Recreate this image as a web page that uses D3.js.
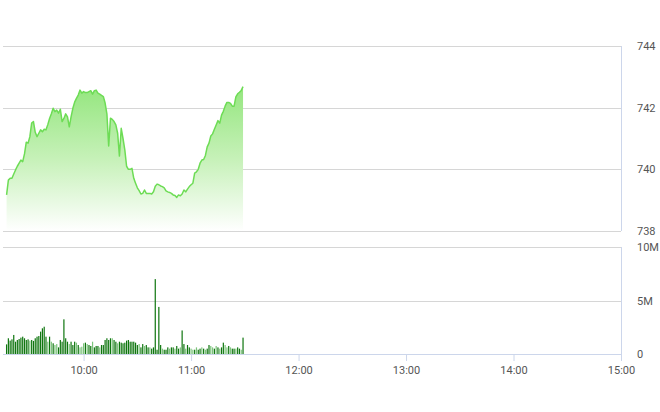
<!DOCTYPE html>
<html>
<head>
<meta charset="utf-8">
<script src="https://cdn.jsdelivr.net/npm/d3@7"></script>
<style>
  html, body { margin: 0; padding: 0; background: #fff; }
  svg { display: block; font-family: Roboto, "Noto Sans", sans-serif; }
</style>
</head>
<body>
<svg id="chart" width="660" height="412"></svg>
<script>
// ---- data (one sample per minute, first sample at 09:17) ----
const firstTime = "09:17";
const prices = [
  739.17, 739.65, 739.71, 739.71, 739.85, 739.98, 740.10, 740.20, 740.30, 740.25,
  740.50, 740.88, 740.85, 741.06, 741.50, 741.55, 741.20, 741.06, 741.17, 741.28,
  741.22, 741.30, 741.28, 741.45, 741.65, 741.80, 741.98, 741.87, 741.92, 741.82,
  741.95, 741.55, 741.65, 741.80, 741.70, 741.38, 741.70, 741.98, 742.18, 742.30,
  742.41, 742.57, 742.47, 742.52, 742.49, 742.49, 742.52, 742.55, 742.44, 742.55,
  742.57, 742.47, 742.44, 742.40, 742.36, 742.15, 741.80, 740.76, 741.66, 741.62,
  741.55, 741.44, 741.17, 740.43, 741.33, 741.00, 740.63, 740.10, 740.00, 740.00,
  740.03, 739.71, 739.55, 739.40, 739.31, 739.20, 739.22, 739.33, 739.22, 739.22,
  739.22, 739.20, 739.27, 739.45, 739.52, 739.50, 739.46, 739.44, 739.40, 739.30,
  739.27, 739.25, 739.22, 739.17, 739.15, 739.09, 739.17, 739.14, 739.20, 739.33,
  739.27, 739.36, 739.44, 739.50, 739.55, 739.88, 739.92, 740.00, 740.20, 740.30,
  740.32, 740.45, 740.73, 740.85, 741.08, 741.15, 741.30, 741.44, 741.58, 741.50,
  741.76, 741.88, 742.05, 742.17, 742.17, 742.14, 742.05, 742.05, 742.35, 742.45,
  742.50, 742.56, 742.68
];
// volume in millions
const volumes = [
  0.90, 1.47, 1.25, 1.37, 1.78, 1.15, 1.31, 1.40, 1.53, 1.62,
  1.47, 1.31, 1.37, 1.25, 1.31, 1.22, 1.47, 1.62, 1.68, 2.09,
  2.40, 2.55, 1.62, 1.15, 1.62, 1.15, 1.00, 0.84, 0.93, 0.62,
  1.31, 1.15, 3.24, 1.47, 1.15, 0.93, 1.15, 0.84, 1.15, 1.06,
  0.84, 0.62, 0.68, 1.00, 1.06, 0.93, 0.84, 0.75, 1.15, 0.62,
  0.75, 0.75, 0.62, 0.84, 0.84, 1.31, 1.47, 1.31, 1.47, 1.47,
  1.31, 1.15, 1.00, 1.15, 1.06, 1.00, 1.06, 1.25, 1.31, 1.15,
  1.15, 1.15, 1.06, 0.84, 0.93, 0.62, 0.93, 0.75, 0.84, 0.62,
  0.62, 0.50, 0.62, 7.00, 0.40, 4.40, 0.84, 0.50, 0.40, 0.40,
  0.62, 0.50, 0.62, 0.62, 0.50, 0.75, 0.50, 0.62, 2.20, 0.93,
  0.50, 0.84, 0.62, 0.50, 0.40, 0.40, 0.62, 0.40, 0.50, 0.62,
  0.50, 0.40, 0.50, 0.84, 0.75, 0.62, 0.50, 0.75, 0.62, 0.50,
  0.62, 1.06, 0.84, 0.62, 0.75, 0.62, 0.50, 0.50, 0.50, 0.62,
  0.50, 0.40, 1.53
];
// 0 = dark bar, 1 = light bar
const volumeShade = [
  0,0,0,0,0,0,0,0,0,0,
  0,0,0,1,0,0,0,0,0,0,
  0,0,0,1,0,1,0,1,1,0,
  0,0,0,0,0,1,0,0,0,1,
  0,1,1,1,0,1,0,0,1,0,
  0,0,1,0,0,0,0,0,0,1,
  0,0,1,0,0,0,0,0,0,0,
  0,0,0,0,1,0,0,1,0,0,
  1,0,0,0,0,0,0,1,0,0,
  0,1,0,0,1,0,0,1,0,0,
  1,0,0,1,1,0,1,0,0,1,
  0,1,0,0,1,1,0,1,0,1,
  0,0,1,1,0,1,0,0,1,0,
  0,1,0
];
const timeTicks = ["10:00", "11:00", "12:00", "13:00", "14:00", "15:00"];
const priceTicks = [738, 740, 742, 744];
const volumeTicks = [0, 5, 10];
const volumeTickLabels = ["0", "5M", "10M"];
const sessionStart = "09:15", sessionEnd = "15:00";

// ---- helpers ----
const parse = d3.timeParse("%H:%M");
const t0 = parse(firstTime);
const rows = prices.map((p, i) => ({
  t: d3.timeMinute.offset(t0, i), p, v: volumes[i], s: volumeShade[i]
}));

const svg = d3.select("#chart");
const left = 3, right = 621;
const x = d3.scaleTime().domain([parse(sessionStart), parse(sessionEnd)]).range([left, right]);
const yP = d3.scaleLinear().domain([738, 744]).range([231, 46]);
const yV = d3.scaleLinear().domain([0, 10]).range([354, 247]);

// gradient
const defs = svg.append("defs");
const grad = defs.append("linearGradient").attr("id", "areaGrad")
  .attr("gradientUnits", "userSpaceOnUse")
  .attr("x1", 0).attr("x2", 0)
  .attr("y1", yP(742.7)).attr("y2", yP(738));
grad.append("stop").attr("offset", "0%").attr("stop-color", "#94e67e").attr("stop-opacity", 1);
grad.append("stop").attr("offset", "50%").attr("stop-color", "#c6f1b8").attr("stop-opacity", 1);
grad.append("stop").attr("offset", "100%").attr("stop-color", "#ffffff").attr("stop-opacity", 1);

// price gridlines
svg.append("g").selectAll("line").data(priceTicks).join("line")
  .attr("x1", left).attr("x2", right)
  .attr("y1", d => Math.round(yP(d)) + 0.5).attr("y2", d => Math.round(yP(d)) + 0.5)
  .attr("stroke", "#d6d6d6").attr("stroke-width", 1);
// volume gridlines
svg.append("g").selectAll("line").data(volumeTicks.filter(d => d > 0)).join("line")
  .attr("x1", left).attr("x2", right)
  .attr("y1", d => Math.round(yV(d)) + 0.5).attr("y2", d => Math.round(yV(d)) + 0.5)
  .attr("stroke", "#d6d6d6").attr("stroke-width", 1);

// right borders
svg.append("line").attr("x1", right + 0.5).attr("x2", right + 0.5)
  .attr("y1", yP(744)).attr("y2", yP(738)).attr("stroke", "#ccd6eb");
svg.append("line").attr("x1", right + 0.5).attr("x2", right + 0.5)
  .attr("y1", yV(10)).attr("y2", yV(0)).attr("stroke", "#ccd6eb");

// area + line
const area = d3.area().x(d => x(d.t)).y0(yP(738)).y1(d => yP(d.p));
const line = d3.line().x(d => x(d.t)).y(d => yP(d.p));
svg.append("path").datum(rows).attr("d", area).attr("fill", "url(#areaGrad)");
svg.append("path").datum(rows).attr("d", line)
  .attr("fill", "none").attr("stroke", "#6ddc55").attr("stroke-width", 1.5)
  .attr("stroke-linejoin", "round");

// volume bars
svg.append("g").selectAll("rect").data(rows).join("rect")
  .attr("x", d => x(d.t) - 0.6).attr("width", 1.2)
  .attr("y", d => yV(d.v)).attr("height", d => yV(0) - yV(d.v))
  .attr("fill", d => d.s ? "#7cc47c" : "#0f760f");

// x axis
const xAxis = d3.axisBottom(x)
  .tickValues(timeTicks.map(parse))
  .tickFormat(d3.timeFormat("%H:%M"))
  .tickSize(7).tickPadding(5);
const gx = svg.append("g").attr("transform", `translate(0,${yV(0)})`).call(xAxis);
gx.select(".domain").attr("stroke", "#ccd6eb").attr("d", `M${left},0.5H${right + 1}`);
gx.selectAll(".tick line").attr("stroke", "#ccd6eb");
gx.selectAll(".tick text").attr("fill", "#555").attr("font-size", 11)
  .attr("font-family", "Roboto, sans-serif");

// right y labels
const yAxisP = d3.axisRight(yP).tickValues(priceTicks).tickFormat(d3.format("d"))
  .tickSize(0).tickPadding(16);
const gp = svg.append("g").attr("transform", `translate(${right},0)`).call(yAxisP);
gp.select(".domain").remove();
gp.selectAll(".tick text").attr("fill", "#555").attr("font-size", 11)
  .attr("font-family", "Roboto, sans-serif");

const yAxisV = d3.axisRight(yV).tickValues(volumeTicks)
  .tickFormat((d, i) => volumeTickLabels[i]).tickSize(0).tickPadding(16);
const gv = svg.append("g").attr("transform", `translate(${right},0)`).call(yAxisV);
gv.select(".domain").remove();
gv.selectAll(".tick text").attr("fill", "#555").attr("font-size", 11)
  .attr("font-family", "Roboto, sans-serif");
</script>
</body>
</html>
